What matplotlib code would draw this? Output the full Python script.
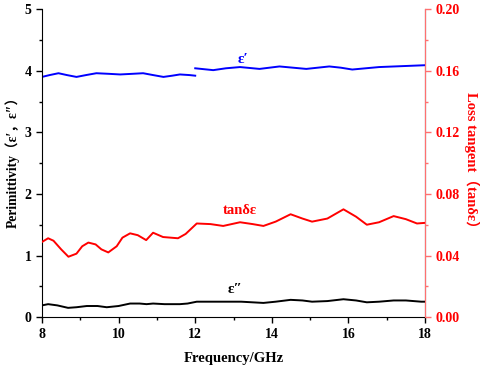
import matplotlib
matplotlib.use("Agg")
import matplotlib.pyplot as plt
from matplotlib.ticker import MultipleLocator

plt.rcParams['font.family'] = ['Liberation Serif', 'Noto Sans CJK SC']
plt.rcParams['font.weight'] = 'bold'

# epsilon' (two sweeps: 8-12 GHz and 12-18 GHz)
f_e1a = [8.0, 8.2, 8.43, 8.65, 8.9, 9.15, 9.42, 9.75, 10.04, 10.35, 10.64, 10.9, 11.17, 11.4, 11.6, 11.85, 12.0]
e1a = [3.90, 3.93, 3.96, 3.93, 3.90, 3.93, 3.96, 3.95, 3.94, 3.95, 3.96, 3.93, 3.90, 3.92, 3.94, 3.93, 3.92]
f_e1b = [12.0, 12.47, 12.8, 13.17, 13.68, 14.2, 14.55, 14.9, 15.2, 15.5, 15.8, 16.1, 16.45, 16.8, 17.2, 17.6, 18.0]
e1b = [4.04, 4.01, 4.04, 4.06, 4.03, 4.07, 4.05, 4.03, 4.05, 4.07, 4.05, 4.02, 4.04, 4.06, 4.07, 4.08, 4.09]

# epsilon''
f_e2 = [8.0, 8.16, 8.4, 8.68, 8.9, 9.17, 9.45, 9.69, 10.0, 10.3, 10.55, 10.73, 10.9, 11.2, 11.6, 11.8, 12.04, 12.5, 13.2, 13.78, 14.1, 14.49, 14.8, 15.05, 15.45, 15.87, 16.2, 16.48, 16.8, 17.18, 17.5, 17.9, 18.0]
e2 = [0.19, 0.21, 0.19, 0.15, 0.16, 0.18, 0.18, 0.16, 0.18, 0.22, 0.22, 0.21, 0.22, 0.21, 0.21, 0.22, 0.25, 0.25, 0.25, 0.23, 0.25, 0.28, 0.27, 0.25, 0.26, 0.29, 0.27, 0.24, 0.25, 0.27, 0.27, 0.25, 0.25]

# loss tangent
f_tan = [8.0, 8.16, 8.3, 8.5, 8.69, 8.9, 9.05, 9.21, 9.4, 9.55, 9.73, 9.95, 10.1, 10.3, 10.5, 10.72, 10.9, 11.16, 11.55, 11.75, 12.04, 12.4, 12.73, 13.17, 13.5, 13.78, 14.1, 14.49, 14.8, 15.05, 15.45, 15.87, 16.2, 16.48, 16.8, 17.18, 17.5, 17.79, 18.0]
tan_d = [0.0488, 0.0512, 0.0496, 0.0440, 0.0392, 0.0412, 0.0460, 0.0484, 0.0472, 0.0440, 0.0420, 0.0460, 0.0516, 0.0544, 0.0532, 0.0500, 0.0548, 0.0520, 0.0512, 0.0540, 0.0608, 0.0604, 0.0592, 0.0616, 0.0604, 0.0592, 0.0620, 0.0668, 0.0640, 0.0620, 0.0640, 0.0700, 0.0652, 0.0600, 0.0616, 0.0656, 0.0636, 0.0608, 0.0612]

fig = plt.figure(figsize=(4.8, 3.67), dpi=100)
ax = fig.add_axes([0.0875, 0.136, 0.798, 0.839])
ax2 = ax.twinx()

ax.plot(f_e1a, e1a, color='#0000ff', lw=1.4)
ax.plot(f_e1b, e1b, color='#0000ff', lw=1.4)
ax.plot(f_e2, e2, color='black', lw=1.4)
ax2.plot(f_tan, tan_d, color='red', lw=1.4)

ax.set_xlim(8, 18)
ax.set_ylim(0, 5)
ax2.set_ylim(0, 0.2)
ax.xaxis.set_major_locator(MultipleLocator(2))
ax.xaxis.set_minor_locator(MultipleLocator(1))
ax.yaxis.set_major_locator(MultipleLocator(1))
ax.yaxis.set_minor_locator(MultipleLocator(0.5))
ax2.yaxis.set_major_locator(MultipleLocator(0.04))
ax2.yaxis.set_minor_locator(MultipleLocator(0.02))
ax2.yaxis.set_major_formatter(plt.FormatStrFormatter('%.2f'))

for a in (ax, ax2):
    a.spines['top'].set_visible(False)
ax2.spines['left'].set_visible(False)
ax2.spines['bottom'].set_visible(False)
ax2.spines['right'].set_color('#ff7070')

ax.tick_params(which='major', direction='out', length=4, width=1, labelsize=10)
ax.tick_params(which='minor', direction='out', length=2.5, width=1)
ax2.tick_params(which='major', direction='out', length=4, width=1, colors='#ff7070', labelcolor='red', labelsize=10)
ax2.tick_params(which='minor', direction='out', length=2.5, width=1, colors='#ff7070')
for lab in ax.get_xticklabels() + ax.get_yticklabels() + ax2.get_yticklabels():
    lab.set_fontweight('bold')

ax.set_xlabel('Frequency/GHz', fontsize=10.5, fontweight='bold', labelpad=8)
ax.set_ylabel('Perimittivity（ε′，ε″）', fontsize=9.8, fontweight='bold')
ax.yaxis.set_label_coords(-0.058, 0.515)
ax2.set_ylabel('Loss tangent（tanδε）', fontsize=10.5, fontweight='bold', color='red', rotation=270, labelpad=14)

ax.text(13.1, 4.12, 'ε′', color='#0000ff', fontsize=11, fontweight='bold')
ax.text(12.72, 1.67, 'tanδε', color='red', fontsize=10.5, fontweight='bold')
ax.text(12.85, 0.39, 'ε″', color='black', fontsize=11, fontweight='bold')

fig.savefig('out.png', dpi=100)
